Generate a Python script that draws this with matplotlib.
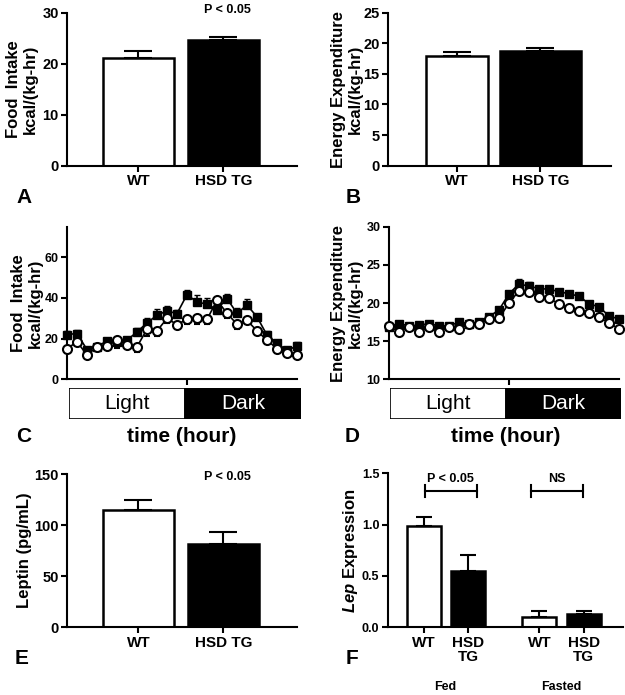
"""Six-panel figure: food intake, energy expenditure, leptin (WT vs HSD TG)."""
import matplotlib
matplotlib.use("Agg")
import matplotlib.pyplot as plt

plt.rcParams["font.family"] = ["Liberation Sans", "DejaVu Sans"]
plt.rcParams["font.weight"] = "bold"
plt.rcParams["axes.labelweight"] = "bold"
plt.rcParams["axes.linewidth"] = 1.5
plt.rcParams["xtick.major.width"] = 1.5
plt.rcParams["ytick.major.width"] = 1.5
plt.rcParams["mathtext.fontset"] = "custom"
plt.rcParams["mathtext.it"] = "Liberation Sans:italic:bold"

# Data
GROUPS = ["WT", "HSD TG"]
FOOD_MEAN = [21.2, 24.7]
FOOD_SEM = [1.2, 0.6]
EE_MEAN = [18.0, 18.8]
EE_SEM = [0.6, 0.5]
LEPTIN_MEAN = [114.8, 81.5]
LEPTIN_SEM = [9.8, 12.1]

LEP_LABELS = ["WT", "HSD\nTG", "WT", "HSD\nTG"]
LEP_MEAN = [0.99, 0.55, 0.10, 0.13]
LEP_SEM = [0.085, 0.15, 0.06, 0.025]
LEP_CONDITIONS = ["Fed", "Fasted"]

HOURS = list(range(24))
FI_TG = [22.0, 22.5, 14.6, 16.0, 18.9, 18.5, 19.2, 23.3, 27.7, 31.5, 33.6, 32.3,
         41.6, 38.0, 36.9, 34.3, 39.7, 32.4, 36.5, 30.7, 21.7, 17.6, 14.3, 16.3]
FI_TG_SEM = [1.5, 1.5, 1.5, 1.0, 1.5, 1.5, 1.5, 2.0, 2.5, 3.0, 2.5, 2.0,
             2.5, 3.5, 3.0, 2.0, 2.0, 2.5, 3.0, 1.5, 2.0, 1.5, 1.0, 2.0]
FI_WT = [15.1, 18.4, 12.0, 15.9, 16.3, 19.2, 17.0, 16.0, 24.6, 23.8, 29.9, 26.9,
         29.5, 29.9, 29.4, 38.9, 32.4, 27.1, 29.0, 23.8, 19.2, 15.1, 13.0, 11.8]
FI_WT_SEM = [2.0, 1.5, 1.5, 1.5, 1.5, 4.0, 1.5, 2.5, 3.5, 2.5, 2.0, 2.0,
             2.5, 2.5, 2.0, 2.0, 2.5, 2.5, 2.0, 2.0, 2.0, 2.0, 1.0, 1.0]

EE_TG = [16.9, 17.3, 17.0, 17.1, 17.3, 17.0, 17.0, 17.5, 17.3, 17.5, 18.2, 19.1,
         21.2, 22.5, 22.2, 21.9, 21.8, 21.5, 21.2, 20.9, 19.9, 19.5, 18.3, 17.9]
EE_TG_SEM = [0.3, 0.3, 0.3, 0.3, 0.3, 0.3, 0.3, 0.3, 0.3, 0.3, 0.3, 0.4,
             0.4, 0.6, 0.5, 0.3, 0.3, 0.3, 0.3, 0.3, 0.3, 0.3, 0.3, 0.3]
EE_WT = [17.0, 16.2, 16.9, 16.2, 16.8, 16.2, 16.9, 16.6, 17.2, 17.2, 17.9, 18.0,
         20.0, 21.6, 21.5, 20.8, 20.6, 19.9, 19.3, 19.0, 18.7, 18.1, 17.4, 16.6]
EE_WT_SEM = [0.3, 0.3, 0.3, 0.3, 0.3, 0.3, 0.3, 0.3, 0.3, 0.3, 0.4, 0.4,
             0.4, 0.6, 0.6, 0.5, 0.5, 0.5, 0.5, 0.5, 0.4, 0.4, 0.4, 0.3]

PHASES = ["Light", "Dark"]
PHASE_HOURS = [12, 12]

W, H = 625, 695
fig = plt.figure(figsize=(W / 100, H / 100), dpi=100)


def px_axes(left, top, right, bottom):
    """Add axes given pixel edges measured from the top-left corner."""
    return fig.add_axes([left / W, 1 - bottom / H, (right - left) / W, (bottom - top) / H])


def style(ax):
    ax.spines["top"].set_visible(False)
    ax.spines["right"].set_visible(False)
    ax.tick_params(length=4, labelsize=10.5, pad=2)


def bar_panel(ax, labels, means, sems, widths, ylim, yticks, ylabel, label_x):
    style(ax)
    x = list(range(len(means)))
    ax.bar(x, means, width=widths, color=["white", "black"], edgecolor="black", linewidth=1.8)
    ax.errorbar(x, means, yerr=[[0] * len(sems), sems], fmt="none", ecolor="black",
                elinewidth=1.5, capsize=10, capthick=1.5)
    ax.set_xlim(-0.84, 1.865)
    ax.set_ylim(*ylim)
    ax.set_yticks(yticks)
    ax.set_xticks(x)
    ax.set_xticklabels(labels, fontsize=11)
    ax.set_ylabel(ylabel, fontsize=12, linespacing=1.15)
    ax.yaxis.set_label_coords(label_x, 0.5)


def time_panel(ax, tg, tg_sem, wt, wt_sem, ylim, yticks, ylabel, label_x):
    style(ax)
    ax.errorbar(HOURS, tg, yerr=[[0] * 24, tg_sem], color="black", lw=1.2, marker="s",
                ms=5.5, mfc="black", mec="black", capsize=2.5, elinewidth=1.2, clip_on=False)
    ax.errorbar(HOURS, wt, yerr=[wt_sem, [0] * 24], color="black", lw=1.2, marker="o",
                ms=6.5, mfc="white", mec="black", mew=1.5, capsize=2.5, elinewidth=1.2,
                clip_on=False, zorder=3)
    ax.set_xlim(0, 23)
    ax.set_ylim(*ylim)
    ax.set_yticks(yticks)
    ax.set_xticks([12])
    ax.set_xticklabels([])
    ax.tick_params(axis="y", labelsize=9)
    ax.set_ylabel(ylabel, fontsize=12, linespacing=1.15)
    ax.yaxis.set_label_coords(label_x, 0.5)


def phase_bar(ax):
    left = 0
    for name, span, col in zip(PHASES, PHASE_HOURS, ["white", "black"]):
        ax.barh([0], [span], left=left, height=1, color=col, edgecolor="black", linewidth=1.2)
        ax.text(left + span / 2, 0, name, ha="center", va="center", fontsize=15,
                fontweight="normal", color="black" if col == "white" else "white")
        left += span
    ax.set_xlim(0, sum(PHASE_HOURS))
    ax.set_ylim(-0.5, 0.5)
    ax.axis("off")


# A: food intake
axA = px_axes(67, 12.7, 297, 165.7)
bar_panel(axA, GROUPS, FOOD_MEAN, FOOD_SEM, 0.835, (0, 30), [0, 10, 20, 30],
          "Food  Intake\nkcal/(kg-hr)", -0.126)
axA.text(1.05, 30.6, "P < 0.05", ha="center", va="center", fontsize=9, clip_on=False)

# B: energy expenditure
axB = px_axes(388, 12.7, 611, 165.7)
bar_panel(axB, GROUPS, EE_MEAN, EE_SEM, [0.74, 0.97], (0, 25), [0, 5, 10, 15, 20, 25],
          "Energy Expenditure\nkcal/(kg-hr)", -0.112)
axB.set_xlim(-0.83, 1.85)

# C: hourly food intake
axC = px_axes(67, 226.7, 297, 379.3)
time_panel(axC, FI_TG, FI_TG_SEM, FI_WT, FI_WT_SEM, (0, 75), [0, 20, 40, 60],
           "Food  Intake\nkcal/(kg-hr)", -0.104)
phase_bar(px_axes(68.5, 388, 301, 419))

# D: hourly energy expenditure
axD = px_axes(389, 226.7, 619, 379.3)
time_panel(axD, EE_TG, EE_TG_SEM, EE_WT, EE_WT_SEM, (10, 30), [10, 15, 20, 25, 30],
           "Energy Expenditure\nkcal/(kg-hr)", -0.113)
phase_bar(px_axes(390, 388, 621, 419))

fig.text(182 / W, 1 - 437 / H, "time (hour)", ha="center", va="center", fontsize=15)
fig.text(506 / W, 1 - 437 / H, "time (hour)", ha="center", va="center", fontsize=15)

# E: serum leptin
axE = px_axes(67, 474, 297, 627.3)
bar_panel(axE, GROUPS, LEPTIN_MEAN, LEPTIN_SEM, 0.835, (0, 150), [0, 50, 100, 150],
          "Leptin (pg/mL)", -0.152)
axE.text(1.05, 146.7, "P < 0.05", ha="center", va="center", fontsize=9, clip_on=False)

# F: Lep expression, fed vs fasted
axF = px_axes(387.7, 473.3, 623, 627.3)
style(axF)
xf = [0, 1, 2.6, 3.6]
axF.bar(xf, LEP_MEAN, width=0.76, color=["white", "black", "white", "black"],
        edgecolor="black", linewidth=1.8)
axF.errorbar(xf, LEP_MEAN, yerr=[[0] * 4, LEP_SEM], fmt="none", ecolor="black",
             elinewidth=1.5, capsize=6, capthick=1.5)
axF.set_xlim(-0.81, 4.48)
axF.set_ylim(0, 1.5)
axF.set_yticks([0, 0.5, 1.0, 1.5])
axF.set_yticklabels(["0.0", "0.5", "1.0", "1.5"])
axF.tick_params(axis="y", labelsize=9)
axF.set_xticks(xf)
axF.set_xticklabels(LEP_LABELS, fontsize=11, linespacing=1.0)
axF.set_ylabel(r"$\mathit{Lep}$ Expression", fontsize=12)
axF.yaxis.set_label_coords(-0.118, 0.5)
for x0, x1, txt in [(0.03, 1.19, "P < 0.05"), (2.41, 3.57, "NS")]:
    axF.plot([x0, x1], [1.33, 1.33], color="black", lw=1.5)
    axF.plot([x0, x0], [1.27, 1.39], color="black", lw=1.5)
    axF.plot([x1, x1], [1.27, 1.39], color="black", lw=1.5)
    axF.text((x0 + x1) / 2, 1.44, txt, ha="center", va="center", fontsize=9)
for xc, cond in zip([0.48, 3.1], LEP_CONDITIONS):
    axF.text(xc, -0.386, cond, ha="center", va="center", fontsize=9,
             transform=axF.get_xaxis_transform())

# panel letters
for letter, (x, y) in zip("ABCDEF", [(24, 197), (353, 197), (24, 437), (352, 437),
                                      (22, 658), (352, 658)]):
    fig.text(x / W, 1 - y / H, letter, ha="center", va="center", fontsize=15)

fig.savefig("out.png", dpi=100)
